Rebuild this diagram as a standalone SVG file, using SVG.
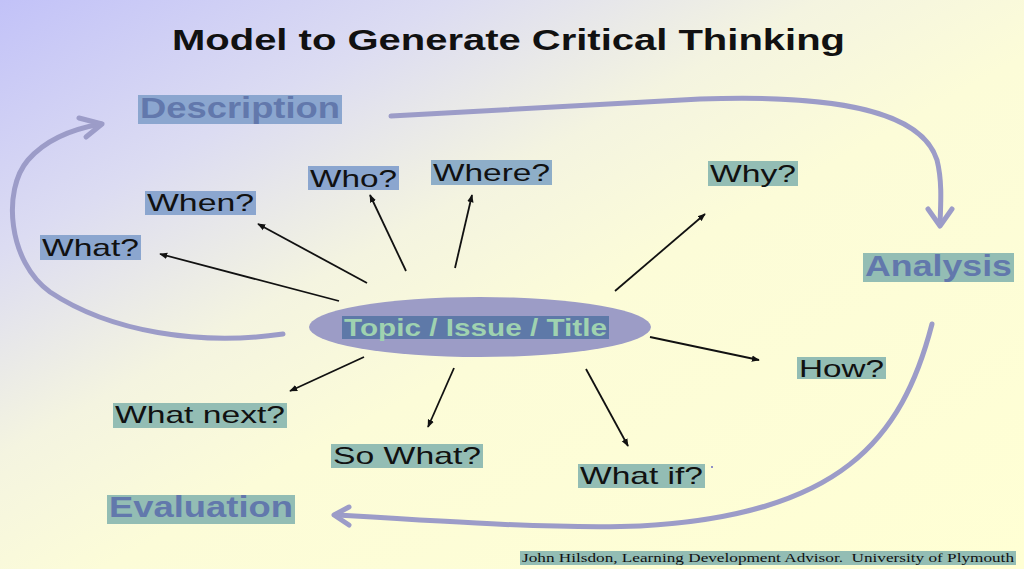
<svg xmlns="http://www.w3.org/2000/svg" width="1024" height="569" viewBox="0 0 1024 569">
<defs>
<linearGradient id="bg" x1="0" y1="0" x2="1" y2="1" gradientUnits="objectBoundingBox">
<stop offset="0" stop-color="#c2c2f8"/>
<stop offset="0.22" stop-color="#dcdcf2"/>
<stop offset="0.4" stop-color="#f4f4e0"/>
<stop offset="0.55" stop-color="#fcfcd8"/>
<stop offset="1" stop-color="#ffffd4"/>
</linearGradient>
<marker id="ah" viewBox="0 0 10 10" refX="9" refY="5" markerWidth="8" markerHeight="8" markerUnits="userSpaceOnUse" orient="auto">
<path d="M0,1 L10,5 L0,9 Z" fill="#111"/>
</marker>
<style>
.lbl{font-family:"Liberation Sans",Arial,sans-serif;font-size:24px;fill:#111}
.big{font-family:"Liberation Sans",Arial,sans-serif;font-size:29px;font-weight:bold;fill:#6278ac}
.boxb{fill:#8ba6cf}
.boxt{fill:#93bdb4}
.ar{stroke:#111;stroke-width:1.8;fill:none;marker-end:url(#ah)}
.flow{stroke:#9c9cc8;stroke-width:5;fill:none;stroke-linecap:round;stroke-linejoin:round}
</style>
</defs>
<rect x="0" y="0" width="1024" height="569" fill="url(#bg)"/>
<text x="172" y="50" font-family="Liberation Sans,Arial,sans-serif" font-size="29" font-weight="bold" fill="#111" textLength="673" lengthAdjust="spacingAndGlyphs">Model to Generate Critical Thinking</text>

<g id="connectors">
<path class="flow" d="M391,116 L700,99 C840,94 922,112 937,160 C942,180 941,200 940,224"/>
<path class="flow" d="M928,209 L940,226 L952,209"/>
<path class="flow" d="M932,324 C902,440 840,515 640,526 C560,529 450,522 336,515"/>
<path class="flow" d="M349,507 L334,515 L349,525"/>
<path class="flow" d="M283,334 C200,346 110,332 50,292 C8,262 2,190 28,160 C48,137 78,128 101,124"/>
<path class="flow" d="M79,118 L102,124 L86,137"/>
<line class="ar" x1="339" y1="301" x2="160" y2="254"/>
<line class="ar" x1="367" y1="283" x2="258" y2="224"/>
<line class="ar" x1="406" y1="271" x2="370" y2="195"/>
<line class="ar" x1="455" y1="268" x2="472" y2="195"/>
<line class="ar" x1="615" y1="291" x2="705" y2="214"/>
<line class="ar" x1="650" y1="337" x2="759" y2="360"/>
<line class="ar" x1="586" y1="369" x2="628" y2="446"/>
<line class="ar" x1="454" y1="368" x2="428" y2="427"/>
<line class="ar" x1="364" y1="357" x2="290" y2="391"/>
</g>

<g id="description">
<rect class="boxb" x="138" y="95" width="204" height="29"/>
<text class="big" x="140" y="118" textLength="200" lengthAdjust="spacingAndGlyphs">Description</text>
</g>
<g id="analysis">
<rect class="boxt" x="863" y="253" width="151" height="29"/>
<text class="big" x="865" y="276" textLength="147" lengthAdjust="spacingAndGlyphs">Analysis</text>
</g>
<g id="evaluation">
<rect class="boxt" x="107" y="495" width="188" height="29"/>
<text class="big" x="109" y="517" textLength="184" lengthAdjust="spacingAndGlyphs">Evaluation</text>
</g>

<g id="topic">
<ellipse cx="480" cy="327" rx="171" ry="30" fill="#9c9cc6"/>
<rect x="342" y="316" width="267" height="23" fill="#5e79a8"/>
<text x="344" y="336" font-family="Liberation Sans,Arial,sans-serif" font-size="24" font-weight="bold" fill="#9fd2b0" textLength="263" lengthAdjust="spacingAndGlyphs">Topic / Issue / Title</text>
</g>

<g id="what">
<rect class="boxb" x="40" y="235" width="101" height="25"/>
<text class="lbl" x="42" y="256" textLength="97" lengthAdjust="spacingAndGlyphs">What?</text>
</g>
<g id="when">
<rect class="boxb" x="145" y="191" width="111" height="24"/>
<text class="lbl" x="147" y="211" textLength="107" lengthAdjust="spacingAndGlyphs">When?</text>
</g>
<g id="who">
<rect class="boxb" x="308" y="166" width="91" height="24"/>
<text class="lbl" x="310" y="187" textLength="87" lengthAdjust="spacingAndGlyphs">Who?</text>
</g>
<g id="where">
<rect x="431" y="160" width="121" height="25" fill="#8eaec8"/>
<text class="lbl" x="433" y="181" textLength="117" lengthAdjust="spacingAndGlyphs">Where?</text>
</g>
<g id="why">
<rect class="boxt" x="708" y="161" width="90" height="25"/>
<text class="lbl" x="710" y="182" textLength="86" lengthAdjust="spacingAndGlyphs">Why?</text>
</g>
<g id="how">
<rect class="boxt" x="797" y="357" width="89" height="22"/>
<text class="lbl" x="799" y="377" textLength="85" lengthAdjust="spacingAndGlyphs">How?</text>
</g>
<g id="whatif">
<rect class="boxt" x="578" y="464" width="127" height="24"/>
<text class="lbl" x="580" y="484" textLength="123" lengthAdjust="spacingAndGlyphs">What if?</text>
</g>
<g id="sowhat">
<rect class="boxt" x="331" y="444" width="152" height="24"/>
<text class="lbl" x="333" y="464" textLength="148" lengthAdjust="spacingAndGlyphs">So What?</text>
</g>
<g id="whatnext">
<rect class="boxt" x="113" y="403" width="174" height="25"/>
<text class="lbl" x="115" y="423" textLength="170" lengthAdjust="spacingAndGlyphs">What next?</text>
</g>
<circle cx="712" cy="467" r="1" fill="#6b6bc0"/>

<g id="footer">
<rect class="boxt" x="520" y="551" width="496" height="14"/>
<text x="522" y="562" font-family="Liberation Serif,Times New Roman,serif" font-size="13.5" fill="#111" textLength="492" lengthAdjust="spacingAndGlyphs" xml:space="preserve">John Hilsdon, Learning Development Advisor.  University of Plymouth</text>
</g>
</svg>
